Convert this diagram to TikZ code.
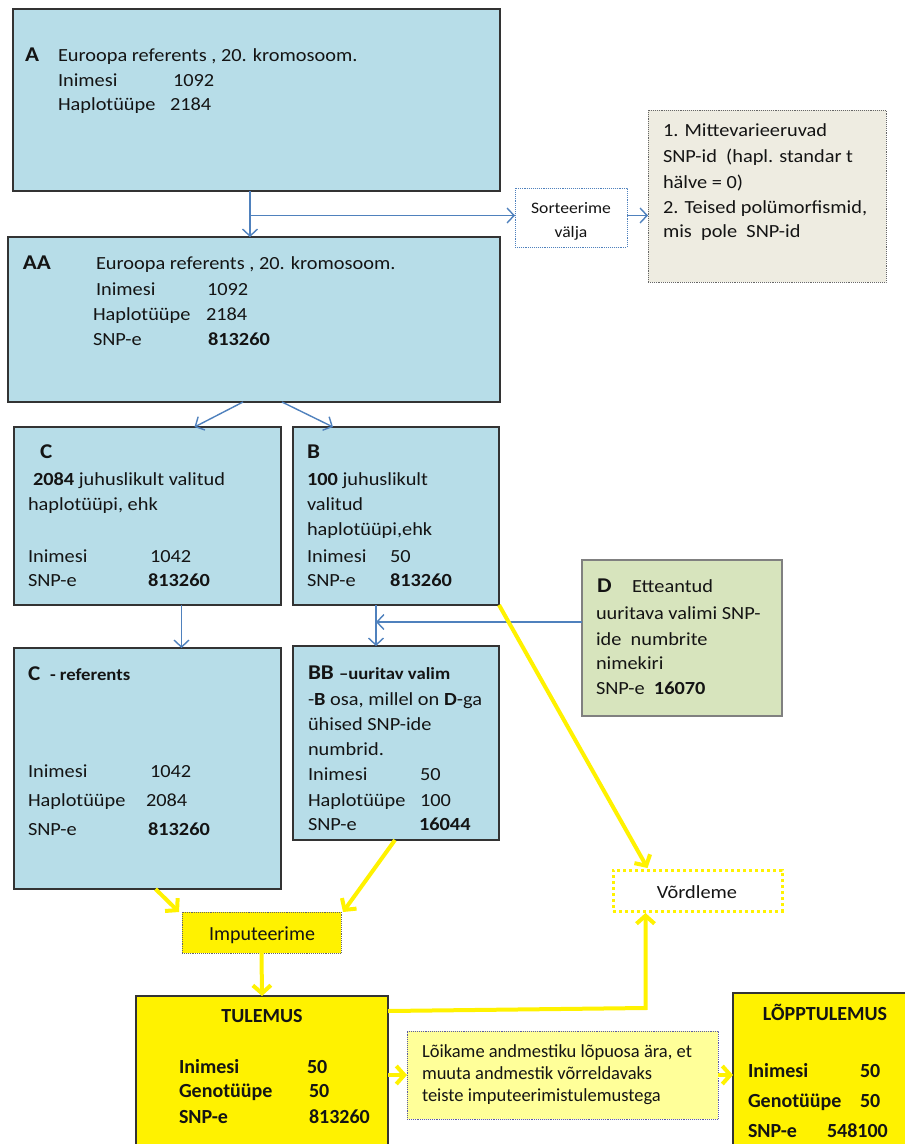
\documentclass[tikz,border=0pt]{standalone}
\usepackage{fontspec}
\setmainfont{Carlito}[FakeStretch=1.1]
\newfontfamily\nf{Carlito}
\usetikzlibrary{arrows.meta,calc}
\definecolor{lblue}{HTML}{B7DDE8}
\definecolor{ggray}{HTML}{EEECE1}
\definecolor{dgreen}{HTML}{D7E4BD}
\definecolor{ablue}{HTML}{4F81BD}
\definecolor{lyel}{HTML}{FFFF99}
\definecolor{tcol}{HTML}{141414}
\begin{document}
\begin{tikzpicture}[x=1pt,y=-1pt,
  box/.style={draw=black!80, line width=1.2pt, anchor=north west, inner sep=0pt, outer sep=0pt},
  bbox/.style={box, fill=lblue},
  ybox/.style={box, fill=yellow},
  txt/.style={anchor=base west, inner sep=0pt, outer sep=0pt, text=tcol, font=\fontsize{18.5}{22}\selectfont},
  btxt/.style={txt, font=\fontsize{18.5}{22}\selectfont\bfseries},
  sbtxt/.style={txt, font=\fontsize{17}{22}\selectfont\bfseries},
  hd/.style={txt, font=\fontsize{21}{26}\selectfont\bfseries},
  ntxt/.style={txt, font=\nf\fontsize{20}{24}\selectfont\bfseries},
  nrtxt/.style={txt, font=\nf\fontsize{18.5}{22}\selectfont},
  barrow/.style={draw=ablue, line width=1.4pt, -{Straight Barb[length=7pt,width=15pt]}},
  yarrow/.style={draw=yellow, line width=4pt, line join=miter, -{Straight Barb[length=8pt,width=18pt]}},
]
\useasboundingbox (0,0) rectangle (905,1144);
\fill[white] (0,0) rectangle (905,1144);

% ---------- boxes ----------
\node[bbox, minimum width=487pt, minimum height=182pt] (A) at (13,9) {};
\node[box, draw=ablue, line width=0.9pt, densely dotted, fill=white, minimum width=112pt, minimum height=59pt] (S) at (515,188) {};
\node[box, draw=black!60, line width=0.9pt, densely dotted, fill=ggray, minimum width=238pt, minimum height=172pt] (G) at (648,110) {};
\node[bbox, minimum width=492pt, minimum height=165pt] (AA) at (8,237) {};
\node[bbox, minimum width=267pt, minimum height=178pt] (C) at (14,427) {};
\node[bbox, minimum width=206pt, minimum height=178pt] (B) at (293,427) {};
\node[box, draw=black!50, fill=dgreen, minimum width=200pt, minimum height=156pt] (D) at (582,560) {};
\node[bbox, minimum width=267pt, minimum height=241pt] (Cr) at (14,648) {};
\node[bbox, minimum width=206pt, minimum height=194pt] (BB) at (293,646) {};
\node[box, draw=yellow, line width=3pt, dash pattern=on 3pt off 3pt, fill=white, minimum width=169pt, minimum height=41pt] (V) at (613,870) {};
\node[ybox, draw=black!60, line width=0.9pt, densely dotted, minimum width=159pt, minimum height=41pt] (I) at (182,912) {};
\node[ybox, minimum width=252pt, minimum height=170pt] (T) at (136,996) {};
\node[box, draw=gray!70!blue, line width=0.9pt, densely dotted, fill=lyel, minimum width=311pt, minimum height=88pt] (L) at (407,1031) {};
\node[ybox, minimum width=190pt, minimum height=170pt] (P) at (733,993) {};

% ---------- texts ----------
\node[hd] (Ah) at (25,61) {A};
\node[txt] (A1) at (58,61) {Euroopa referents , 20. kromosoom.};
\node[txt] (A2) at (58,86) {Inimesi};
\node[txt] (A3) at (173,86) {1092};
\node[txt] (A4) at (58,110) {Haplotüüpe};
\node[txt] (A5) at (170,110) {2184};

\node[txt, anchor=base, font=\fontsize{16}{20}\selectfont] (S1) at (571,213) {Sorteerime};
\node[txt, anchor=base, font=\fontsize{16}{20}\selectfont] (S2) at (571,237) {välja};

\node[txt] (G1) at (663,136) {1. Mittevarieeruvad};
\node[txt] (G2) at (663,162) {SNP-id\ \ (hapl. standar t};
\node[txt] (G3) at (663,188) {hälve = 0)};
\node[txt] (G4) at (663,213) {2. Teised polümorfismid,};
\node[txt] (G5) at (663,237) {mis\ \ pole\ \ SNP-id};

\node[hd] (AAh) at (23,269) {AA};
\node[txt] (AA1) at (96,269) {Euroopa referents , 20. kromosoom.};
\node[txt] (AA2) at (96,295) {Inimesi};
\node[txt] (AA3) at (207,295) {1092};
\node[txt] (AA4) at (93,320) {Haplotüüpe};
\node[txt] (AA5) at (206,320) {2184};
\node[txt] (AA6) at (93,345) {SNP-e};
\node[btxt] (AA7) at (208,345) {813260};

\node[hd] (Ch) at (40,458) {C};
\node[txt] (C1) at (33,485) {\textbf{2084} juhuslikult valitud};
\node[txt] (C2) at (28,510) {haplotüüpi, ehk};
\node[txt] (C3) at (28,562) {Inimesi};
\node[txt] (C4) at (150,562) {1042};
\node[txt] (C5) at (28,586) {SNP-e};
\node[btxt] (C6) at (148,586) {813260};

\node[hd] (Bh) at (307,458) {B};
\node[txt] (B1) at (307,485) {\textbf{100} juhuslikult};
\node[txt] (B2) at (307,510) {valitud};
\node[txt] (B3) at (307,535) {haplotüüpi,ehk};
\node[txt] (B4) at (307,562) {Inimesi};
\node[txt] (B5) at (390,562) {50};
\node[txt] (B6) at (307,586) {SNP-e};
\node[btxt] (B7) at (390,586) {813260};

\node[hd] (Dh) at (597,592) {D};
\node[txt] (D1) at (632,592) {Etteantud};
\node[txt] (D2) at (596,619) {uuritava valimi SNP-};
\node[txt] (D3) at (596,645) {ide\ \ numbrite};
\node[txt] (D4) at (596,669) {nimekiri};
\node[txt] (D5) at (596,694) {SNP-e\ \ \textbf{16070}};

\node[hd] (Crh) at (28,680) {C};
\node[sbtxt] (Cr0) at (50,680) {- referents};
\node[txt] (Cr1) at (28,777) {Inimesi};
\node[txt] (Cr2) at (150,777) {1042};
\node[txt] (Cr3) at (28,806) {Haplotüüpe};
\node[txt] (Cr4) at (146,806) {2084};
\node[txt] (Cr5) at (28,835) {SNP-e};
\node[btxt] (Cr6) at (148,835) {813260};

\node[hd] (BBh) at (308,679) {BB};
\node[sbtxt] (BB0) at (339,679) {–uuritav valim};
\node[txt] (BB1) at (308,705) {-\textbf{B} osa, millel on \textbf{D}-ga};
\node[txt] (BB2) at (308,730) {ühised SNP-ide};
\node[txt] (BB3) at (308,755) {numbrid.};
\node[txt] (BB4) at (308,780) {Inimesi};
\node[txt] (BB5) at (420,780) {50};
\node[txt] (BB6) at (308,806) {Haplotüüpe};
\node[txt] (BB7) at (420,806) {100};
\node[txt] (BB8) at (308,830) {SNP-e};
\node[btxt] (BB9) at (419,830) {16044};

\node[txt, anchor=base] (V1) at (697,898) {Võrdleme};
\node[txt, anchor=base, font=\nf\fontsize{20}{24}\selectfont] (I1) at (262,940) {Imputeerime};

\node[ntxt, anchor=base] (T0) at (262,1022) {TULEMUS};
\node[ntxt] (T1) at (179,1073) {Inimesi};
\node[ntxt] (T2) at (307,1073) {50};
\node[ntxt] (T3) at (179,1097) {Genotüüpe};
\node[ntxt] (T4) at (309,1097) {50};
\node[ntxt] (T5) at (179,1123) {SNP-e};
\node[ntxt] (T6) at (309,1123) {813260};

\node[nrtxt] (L1) at (422,1057) {Lõikame andmestiku lõpuosa ära, et};
\node[nrtxt] (L2) at (422,1079) {muuta andmestik võrreldavaks};
\node[nrtxt] (L3) at (422,1101) {teiste imputeerimistulemustega};

\node[ntxt, anchor=base] (P0) at (825,1020) {LÕPPTULEMUS};
\node[ntxt] (P1) at (748,1077) {Inimesi};
\node[ntxt] (P2) at (860,1077) {50};
\node[ntxt] (P3) at (748,1107) {Genotüüpe};
\node[ntxt] (P4) at (860,1107) {50};
\node[ntxt] (P5) at (748,1137) {SNP-e};
\node[ntxt] (P6) at (827,1137) {548100};

% ---------- connectors ----------
\coordinate (ax) at (250,0);
\draw[barrow] (A.south -| ax) -- (AA.north -| ax);
\draw[barrow] ($(S.west -| ax)+(0,-2)$) -- ($(S.west)+(0,-2)$);
\draw[barrow] ($(S.east)+(0,-2)$) -- ($(S.east -| G.west)+(0,-2)$);
\draw[barrow] ($(AA.south)+(-11,0)$) -- ($(C.north)+(47,0)$);
\draw[barrow] ($(AA.south)+(28,0)$) -- ($(B.north)+(-63,0)$);
\draw[barrow] ($(C.south)+(34,0)$) -- ($(Cr.north)+(34,0)$);
\draw[barrow] ($(B.south)+(-20,0)$) -- ($(BB.north)+(-20,0)$);
\coordinate (dj) at ($(B.south)+(-20,17)$);
\draw[barrow] (D.west |- dj) -- (dj);

\draw[yarrow] (B.south east) -- ($(V.north)+(-50,-2)$);
\draw[yarrow] ($(Cr.south)+(8,0)$) -- ($(I.north west)+(-3,0)$);
\draw[yarrow] ($(BB.south)+(-1,0)$) -- ($(I.north east)+(2,0)$);
\draw[yarrow] (I.south) -- (T.north);
\draw[yarrow] ($(T.north east)+(0,15)$) -- ($(V.south)+(-52,97)$) -- ($(V.south)+(-52,2)$);
\draw[yarrow] (L.west -| T.east) -- (L.west);
\draw[yarrow] (L.east) -- (L.east -| P.west);
\end{tikzpicture}
\end{document}
